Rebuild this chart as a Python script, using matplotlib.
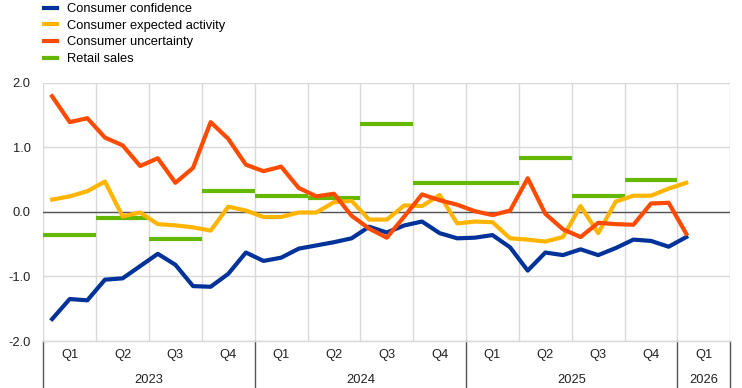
import matplotlib
matplotlib.use("Agg")
import matplotlib.pyplot as plt
import matplotlib.transforms as mtransforms
import numpy as np

plt.rcParams['font.family'] = ['Liberation Sans', 'DejaVu Sans']

# Monthly data, Jan 2023 - Jan 2026
confidence = [-1.66, -1.35, -1.37, -1.05, -1.03, -0.84, -0.65, -0.82, -1.15, -1.16, -0.96, -0.63,
              -0.76, -0.71, -0.57, -0.52, -0.47, -0.41, -0.23, -0.32, -0.21, -0.15, -0.33, -0.41,
              -0.40, -0.36, -0.55, -0.91, -0.63, -0.67, -0.58, -0.67, -0.56, -0.43, -0.45, -0.54,
              -0.39]
expected_activity = [0.19, 0.24, 0.32, 0.47, -0.07, -0.01, -0.19, -0.21, -0.24, -0.29, 0.08, 0.02,
                     -0.08, -0.08, -0.01, -0.01, 0.15, 0.17, -0.12, -0.12, 0.10, 0.09, 0.26, -0.18,
                     -0.15, -0.16, -0.41, -0.43, -0.46, -0.39, 0.09, -0.33, 0.16, 0.25, 0.25, 0.36,
                     0.45]
uncertainty = [1.79, 1.39, 1.45, 1.15, 1.03, 0.71, 0.83, 0.45, 0.68, 1.39, 1.13, 0.73,
               0.63, 0.70, 0.37, 0.24, 0.28, -0.06, -0.26, -0.40, -0.07, 0.27, 0.18, 0.11,
               0.01, -0.05, 0.02, 0.52, -0.03, -0.27, -0.39, -0.17, -0.19, -0.20, 0.13, 0.14,
               -0.34]
# Quarterly retail sales, Q1 2023 - Q4 2025
retail_sales = [-0.36, -0.10, -0.42, 0.32, 0.24, 0.21, 1.36, 0.44, 0.44, 0.83, 0.24, 0.49]

quarter_labels = ["Q1", "Q2", "Q3", "Q4"] * 3 + ["Q1"]
years = ["2023", "2024", "2025", "2026"]
yticks = [-2.0, -1.0, 0.0, 1.0, 2.0]

c_blue = "#003299"
c_yellow = "#FFB400"
c_orange = "#FF4B00"
c_green = "#65B800"

fig = plt.figure(figsize=(7.42, 3.88), dpi=100)
ax = fig.add_axes([43.3 / 742, 1 - 341 / 388, (730.3 - 43.3) / 742, (341 - 82.7) / 388])

n_months = len(confidence)
n_quarters = len(quarter_labels)
x = np.arange(n_months) + 0.5

lw = 3.0
# retail sales as quarterly steps
for q, v in enumerate(retail_sales):
    ax.hlines(v, 3 * q, 3 * q + 3, color=c_green, lw=lw, capstyle='butt', zorder=3)

l1, = ax.plot(x, confidence, color=c_blue, lw=lw, zorder=4)
l2, = ax.plot(x, expected_activity, color=c_yellow, lw=lw, zorder=4)
l3, = ax.plot(x, uncertainty, color=c_orange, lw=lw, zorder=5)
l4 = matplotlib.lines.Line2D([], [], color=c_green, lw=lw)

ax.set_xlim(0, 3 * n_quarters)
ax.set_ylim(-2.0, 2.0)
ax.set_yticks(yticks)
ax.set_yticklabels([f"{v:.1f}" for v in yticks])
ax.set_xticks(np.arange(0, 3 * n_quarters + 1, 3))
ax.set_xticklabels([])
ax.tick_params(axis='both', length=0, labelsize=9.3, colors='#222222')
ax.tick_params(axis='y', pad=9)
ax.grid(True, color='#d9d9d9', lw=1.0, zorder=0)
ax.axhline(0, color='#555555', lw=1.0, zorder=2)
for s in ax.spines.values():
    s.set_visible(False)

trans = mtransforms.blended_transform_factory(ax.transData, ax.transAxes)
for q, lab in enumerate(quarter_labels):
    ax.text(3 * q + 1.5, -0.055, lab, transform=trans, ha='center', va='center',
            fontsize=9.3, color='#222222')
year_starts = [0, 12, 24, 36]
year_ends = [12, 24, 36, 39]
for yr, s, e in zip(years, year_starts, year_ends):
    ax.text((s + e) / 2, -0.15, yr, transform=trans, ha='center', va='center',
            fontsize=9.3, color='#222222')
for b in year_starts + [year_ends[-1]]:
    ax.plot([b, b], [0, -0.185], transform=trans, color='#555555', lw=1.0, clip_on=False)
ax.plot([0, 3 * n_quarters], [0, 0], transform=trans, color='#d9d9d9', lw=1.0, clip_on=False)

fig.legend([l1, l2, l3, l4],
           ["Consumer confidence", "Consumer expected activity", "Consumer uncertainty", "Retail sales"],
           loc='upper left', bbox_to_anchor=(44 / 742, 1 - 3 / 388), frameon=False,
           fontsize=9.3, handlelength=1.0, handletextpad=0.75, labelspacing=0.36,
           borderaxespad=0.0, borderpad=0.0)

fig.savefig("out.png", dpi=100)
